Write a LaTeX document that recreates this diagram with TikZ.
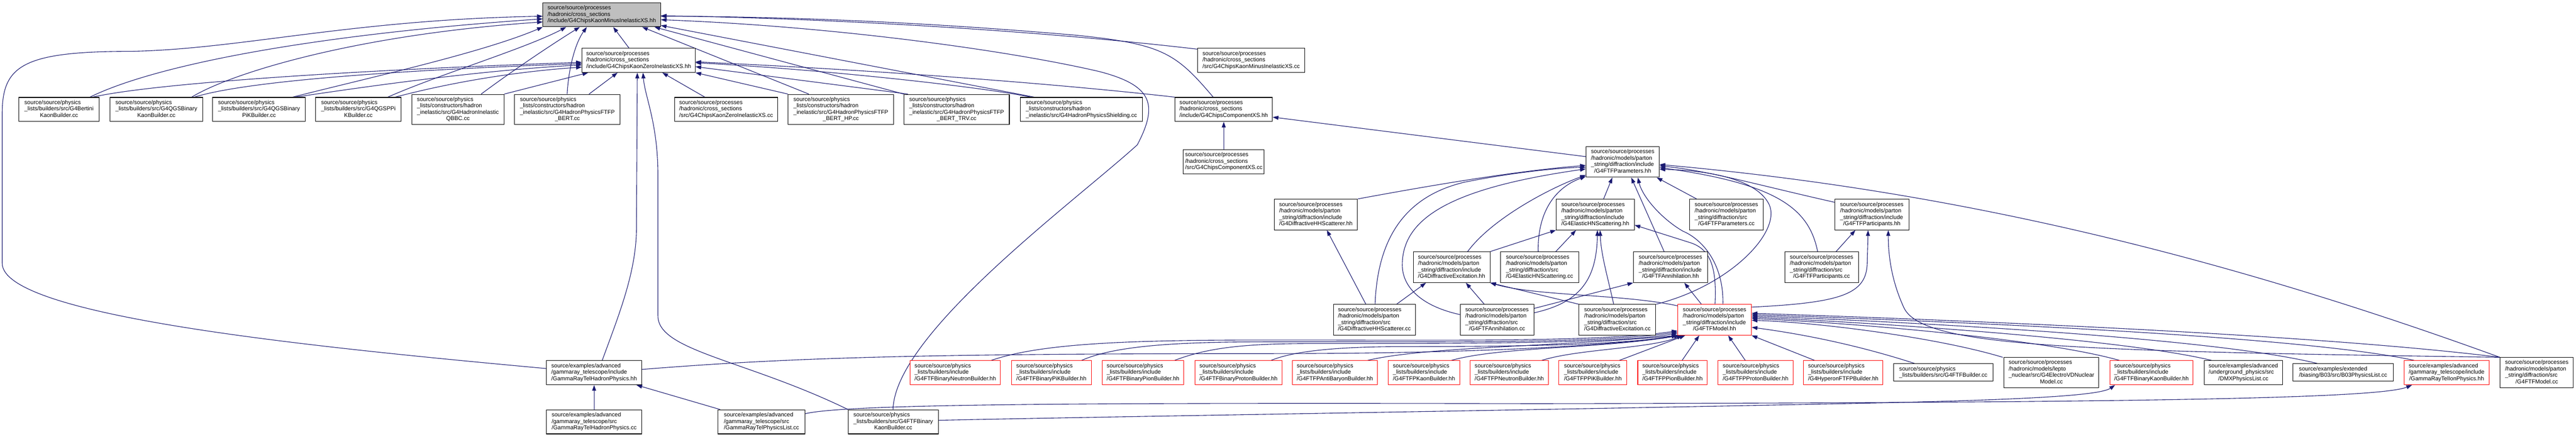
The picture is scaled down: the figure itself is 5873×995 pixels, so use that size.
\documentclass[tikz,border=0pt]{standalone}
\usepackage{fontspec}
\setmainfont{Liberation Sans}
\usetikzlibrary{arrows.meta}
\definecolor{edgec}{HTML}{191970}
\definecolor{grayfill}{HTML}{BFBFBF}
\definecolor{redc}{HTML}{FF0000}
\pgfdeclarelayer{back}\pgfdeclarelayer{edges}\pgfsetlayers{back,edges,main}
\newcommand\mkbox[7]{%
  \pgfmathsetmacro\bxc{(#2+#4)/2}%
  \pgfmathsetmacro\byc{(#3+#5)/2}%
  \pgfmathsetmacro\bxw{#4-#2}%
  \pgfmathsetmacro\bxh{#5-#3}%
  \node[#6,minimum width=\bxw pt,minimum height=\bxh pt] (#1) at (\bxc,\byc) {#7};}
\newcommand\btxt[2]{\begin{tabular}{@{}l@{}}#1\\\multicolumn{1}{@{}c@{}}{#2}\end{tabular}}
\newcommand\Lpsp{source/source/processes}
\newcommand\Lpsy{source/source/physics}
\newcommand\Lhcs{/hadronic/cross\_sections}
\newcommand\Lhmp{/hadronic/models/parton}
\newcommand\Lsdi{\_string/diffraction/include}
\newcommand\Lsds{\_string/diffraction/src}
\newcommand\Llbi{\_lists/builders/include}
\newcommand\Llch{\_lists/constructors/hadron}
\newcommand\Lsea{source/examples/advanced}
\begin{document}
\begin{tikzpicture}[x=1pt,y=-1pt,
  box/.style={draw=black,line width=1.2pt,fill=white,inner sep=0pt,text=black,font=\fontsize{13}{14.7}\selectfont},
  redbox/.style={box,draw=redc},
  graybox/.style={box,fill=grayfill},
  incl/.style={draw=edgec,line width=1.3pt,-{Triangle[length=13pt,width=9pt]}}]
\begin{pgfonlayer}{back}
\fill[white] (0,0) rectangle (5873,995);
\end{pgfonlayer}
\useasboundingbox (0,0) rectangle (5873,995);
% row 1-2
\mkbox{N0}{1238}{6}{1506}{61}{graybox}{\btxt{\Lpsp\\\Lhcs}{/include/G4ChipsKaonMinusInelasticXS.hh}}
\mkbox{N1}{1327}{110}{1585}{165}{box}{\btxt{\Lpsp\\\Lhcs}{/include/G4ChipsKaonZeroInelasticXS.hh}}
\mkbox{N2}{2730}{110}{2975}{165}{box}{\btxt{\Lpsp\\\Lhcs}{/src/G4ChipsKaonMinusInelasticXS.cc}}
% row 3
\mkbox{B1}{43}{222}{226}{277}{box}{\btxt{\Lpsy\\\_lists/builders/src/G4Bertini}{KaonBuilder.cc}}
\mkbox{B2}{251}{222}{462}{277}{box}{\btxt{\Lpsy\\\_lists/builders/src/G4QGSBinary}{KaonBuilder.cc}}
\mkbox{B3}{485}{222}{696}{277}{box}{\btxt{\Lpsy\\\_lists/builders/src/G4QGSBinary}{PiKBuilder.cc}}
\mkbox{B4}{720}{222}{914}{277}{box}{\btxt{\Lpsy\\\_lists/builders/src/G4QGSPPi}{KBuilder.cc}}
\mkbox{C1}{939}{215}{1149}{284}{box}{\btxt{\Lpsy\\\Llch\\\_inelastic/src/G4HadronInelastic}{QBBC.cc}}
\mkbox{C2}{1173}{215}{1414}{284}{box}{\btxt{\Lpsy\\\Llch\\\_inelastic/src/G4HadronPhysicsFTFP}{\_BERT.cc}}
\mkbox{X1}{1538}{222}{1773}{277}{box}{\btxt{\Lpsp\\\Lhcs}{/src/G4ChipsKaonZeroInelasticXS.cc}}
\mkbox{C3}{1797}{215}{2037}{284}{box}{\btxt{\Lpsy\\\Llch\\\_inelastic/src/G4HadronPhysicsFTFP}{\_BERT\_HP.cc}}
\mkbox{C4}{2061}{215}{2301}{284}{box}{\btxt{\Lpsy\\\Llch\\\_inelastic/src/G4HadronPhysicsFTFP}{\_BERT\_TRV.cc}}
\mkbox{C5}{2326}{222}{2605}{277}{box}{\btxt{\Lpsy\\\Llch}{\_inelastic/src/G4HadronPhysicsShielding.cc}}
\mkbox{X2}{2679}{222}{2901}{277}{box}{\btxt{\Lpsp\\\Lhcs}{/include/G4ChipsComponentXS.hh}}
% row 4
\mkbox{X3}{2698}{341}{2882}{396}{box}{\btxt{\Lpsp\\\Lhcs}{/src/G4ChipsComponentXS.cc}}
\mkbox{F0}{3616}{334}{3783}{404}{box}{\btxt{\Lpsp\\\Lhmp\\\Lsdi}{/G4FTFParameters.hh}}
% row 5
\mkbox{D1}{2905}{454}{3095}{524}{box}{\btxt{\Lpsp\\\Lhmp\\\Lsdi}{/G4DiffractiveHHScatterer.hh}}
\mkbox{E1}{3548}{454}{3726}{524}{box}{\btxt{\Lpsp\\\Lhmp\\\Lsdi}{/G4ElasticHNScattering.hh}}
\mkbox{P1}{3852}{454}{4020}{524}{box}{\btxt{\Lpsp\\\Lhmp\\\Lsds}{/G4FTFParameters.cc}}
\mkbox{Q1}{4183}{454}{4352}{524}{box}{\btxt{\Lpsp\\\Lhmp\\\Lsdi}{/G4FTFParticipants.hh}}
% row 6
\mkbox{D2}{3222}{574}{3397}{644}{box}{\btxt{\Lpsp\\\Lhmp\\\Lsdi}{/G4DiffractiveExcitation.hh}}
\mkbox{E2}{3421}{574}{3599}{644}{box}{\btxt{\Lpsp\\\Lhmp\\\Lsds}{/G4ElasticHNScattering.cc}}
\mkbox{A1}{3724}{574}{3893}{644}{box}{\btxt{\Lpsp\\\Lhmp\\\Lsdi}{/G4FTFAnnihilation.hh}}
\mkbox{Q2}{4069}{574}{4237}{644}{box}{\btxt{\Lpsp\\\Lhmp\\\Lsds}{/G4FTFParticipants.cc}}
% row 7
\mkbox{D3}{3040}{694}{3227}{764}{box}{\btxt{\Lpsp\\\Lhmp\\\Lsds}{/G4DiffractiveHHScatterer.cc}}
\mkbox{A2}{3329}{694}{3497}{764}{box}{\btxt{\Lpsp\\\Lhmp\\\Lsds}{/G4FTFAnnihilation.cc}}
\mkbox{D4}{3600}{694}{3775}{764}{box}{\btxt{\Lpsp\\\Lhmp\\\Lsds}{/G4DiffractiveExcitation.cc}}
\mkbox{M0}{3825}{694}{3993}{764}{redbox}{\btxt{\Lpsp\\\Lhmp\\\Lsdi}{/G4FTFModel.hh}}
% row 8
\mkbox{GH}{1246}{822}{1463}{877}{box}{\btxt{\Lsea\\/gammaray\_telescope/include}{/GammaRayTelHadronPhysics.hh}}
\mkbox{R1}{2075}{822}{2281}{877}{redbox}{\btxt{\Lpsy\\\Llbi}{/G4FTFBinaryNeutronBuilder.hh}}
\mkbox{R2}{2306}{822}{2488}{877}{redbox}{\btxt{\Lpsy\\\Llbi}{/G4FTFBinaryPiKBuilder.hh}}
\mkbox{R3}{2513}{822}{2699}{877}{redbox}{\btxt{\Lpsy\\\Llbi}{/G4FTFBinaryPionBuilder.hh}}
\mkbox{R4}{2724}{822}{2923}{877}{redbox}{\btxt{\Lpsy\\\Llbi}{/G4FTFBinaryProtonBuilder.hh}}
\mkbox{R5}{2947}{822}{3140}{877}{redbox}{\btxt{\Lpsy\\\Llbi}{/G4FTFPAntiBaryonBuilder.hh}}
\mkbox{R6}{3165}{822}{3328}{877}{redbox}{\btxt{\Lpsy\\\Llbi}{/G4FTFPKaonBuilder.hh}}
\mkbox{R7}{3352}{822}{3530}{877}{redbox}{\btxt{\Lpsy\\\Llbi}{/G4FTFPNeutronBuilder.hh}}
\mkbox{R8}{3554}{822}{3709}{877}{redbox}{\btxt{\Lpsy\\\Llbi}{/G4FTFPPiKBuilder.hh}}
\mkbox{R9}{3734}{822}{3892}{877}{redbox}{\btxt{\Lpsy\\\Llbi}{/G4FTFPPionBuilder.hh}}
\mkbox{R10}{3917}{822}{4088}{877}{redbox}{\btxt{\Lpsy\\\Llbi}{/G4FTFPProtonBuilder.hh}}
\mkbox{R11}{4112}{822}{4293}{877}{redbox}{\btxt{\Lpsy\\\Llbi}{/G4HyperonFTFPBuilder.hh}}
\mkbox{K1}{4317}{829}{4544}{869}{box}{\btxt{\Lpsy}{\_lists/builders/src/G4FTFBuilder.cc}}
\mkbox{K2}{4569}{815}{4785}{884}{box}{\btxt{\Lpsp\\/hadronic/models/lepto\\\_nuclear/src/G4ElectroVDNuclear}{Model.cc}}
\mkbox{R12}{4810}{822}{5000}{877}{redbox}{\btxt{\Lpsy\\\Llbi}{/G4FTFBinaryKaonBuilder.hh}}
\mkbox{K3}{5025}{822}{5204}{877}{box}{\btxt{\Lsea\\/underground\_physics/src}{/DMXPhysicsList.cc}}
\mkbox{K4}{5228}{829}{5456}{869}{box}{\btxt{source/examples/extended}{/biasing/B03/src/B03PhysicsList.cc}}
\mkbox{R13}{5481}{822}{5675}{877}{redbox}{\btxt{\Lsea\\/gammaray\_telescope/include}{/GammaRayTelIonPhysics.hh}}
\mkbox{K5}{5700}{815}{5867}{884}{box}{\btxt{\Lpsp\\\Lhmp\\\Lsds}{/G4FTFModel.cc}}
% row 9
\mkbox{G1}{1246}{934}{1463}{989}{box}{\btxt{\Lsea\\/gammaray\_telescope/src}{/GammaRayTelHadronPhysics.cc}}
\mkbox{G2}{1637}{934}{1835}{989}{box}{\btxt{\Lsea\\/gammaray\_telescope/src}{/GammaRayTelPhysicsList.cc}}
\mkbox{G3}{1934}{934}{2139}{989}{box}{\btxt{\Lpsy\\\_lists/builders/src/G4FTFBinary}{KaonBuilder.cc}}
\begin{pgfonlayer}{edges}
% into main header
\draw[incl] (GH.west |- 0,840) .. controls (700,790) and (5,720) .. (5,600) -- (5,260) .. controls (5,150) and (50,117) .. (300,117) .. controls (550,112) and (800,45) .. (N0.west |- 0,37);
\draw[incl] (B1.north -| 205,0) .. controls (350,150) and (700,80) .. (N0.west |- 0,43);
\draw[incl] (B2.north -| 437,0) .. controls (520,170) and (800,80) .. (N0.west |- 0,50);
\draw[incl] (B3.north -| 667,0) .. controls (850,175) and (1100,120) .. (N0.south west);
\draw[incl] (B4.north -| 884,0) .. controls (1000,170) and (1200,110) .. (N0.south -| 1291,0);
\draw[incl] (C1.north -| 1097,0) .. controls (1170,160) and (1260,100) .. (N0.south -| 1322,0);
\draw[incl] (C2.north -| 1293,0) .. controls (1296,160) and (1310,100) .. (N0.south -| 1338,0);
\draw[incl] (N1.north -| 1434,0) -- (N0.south -| 1398,0);
\draw[incl] (C3.north -| 1844,0) -- (N0.south -| 1464,0);
\draw[incl] (C4.north west) -- (N0.south -| 1492,0);
\draw[incl] (C5.north -| 2358,0) -- (N0.east |- 0,58);
\draw[incl] (X2.north -| 2766,0) .. controls (2680,120) and (2650,100) .. (2450,80) .. controls (2100,50) and (1800,38) .. (N0.east |- 0,37);
\draw[incl] (N2.west |- 0,112) .. controls (2300,62) and (1800,40) .. (N0.east |- 0,36);
\draw[incl] (G3.north -| 2036,0) .. controls (2040,760) and (2450,460) .. (2593,330) .. controls (2640,240) and (2630,195) .. (2506,163) .. controls (2300,115) and (1900,60) .. (N0.east |- 0,45);
% into KaonZero header
\draw[incl] (B1.north -| 211,0) .. controls (350,190) and (800,160) .. (N1.west |- 0,142);
\draw[incl] (B2.north -| 443,0) .. controls (560,185) and (900,160) .. (N1.west |- 0,145);
\draw[incl] (B3.north -| 673,0) .. controls (850,195) and (1100,160) .. (N1.west |- 0,148);
\draw[incl] (B4.north -| 901,0) .. controls (1000,195) and (1150,165) .. (N1.west |- 0,153);
\draw[incl] (C1.north east) -- (N1.south -| 1341,0);
\draw[incl] (C2.north -| 1343,0) -- (N1.south -| 1408,0);
\draw[incl] (C3.north west) -- (N1.south east);
\draw[incl] (C4.north -| 2070,0) -- (N1.east |- 0,152);
\draw[incl] (X1.north -| 1607,0) -- (N1.south -| 1510,0);
\draw[incl] (C5.north -| 2350,0) .. controls (2250,200) and (1900,160) .. (N1.east |- 0,143);
\draw[incl] (X2.north west) .. controls (2400,190) and (2000,160) .. (N1.east |- 0,141);
\draw[incl] (G3.north west) .. controls (1700,820) and (1500,800) .. (1500,720) -- (1500,400) .. controls (1500,280) and (1470,220) .. (N1.south -| 1466,0);
\draw[incl] (GH.north -| 1373,0) .. controls (1410,720) and (1451,620) .. (1451,520) -- (N1.south -| 1453,0);
% component XS
\draw[incl] (X3.north -| 2790,0) -- (X2.south -| 2790,0);
\draw[incl] (F0.west |- 0,357) -- (X2.east |- 0,267);
% into FTF parameters
\draw[incl] (D1.north east) .. controls (3250,425) and (3450,390) .. (F0.west |- 0,377);
\draw[incl] (D3.north -| 3135,0) .. controls (3140,560) and (3190,450) .. (3340,415) .. controls (3450,393) and (3550,383) .. (F0.west |- 0,381);
\draw[incl] (A2.west |- 0,717) .. controls (3250,700) and (3195,660) .. (3197,600) .. controls (3200,500) and (3300,430) .. (F0.west |- 0,385);
\draw[incl] (D2.north -| 3346,0) .. controls (3400,500) and (3530,430) .. (F0.west |- 0,399);
\draw[incl] (E2.north -| 3507,0) .. controls (3505,490) and (3540,430) .. (F0.west |- 0,402);
\draw[incl] (E1.north -| 3656,0) -- (F0.south -| 3676,0);
\draw[incl] (A1.north -| 3794,0) -- (F0.south -| 3719,0);
\draw[incl] (M0.north -| 3928,0) .. controls (3930,600) and (3880,545) .. (3837,527) .. controls (3790,500) and (3745,450) .. (F0.south -| 3734,0);
\draw[incl] (P1.north -| 3868,0) -- (F0.south -| 3777,0);
\draw[incl] (Q1.west |- 0,461) .. controls (4000,420) and (3900,390) .. (F0.east |- 0,378);
\draw[incl] (Q2.north -| 4144,0) .. controls (4125,480) and (4060,420) .. (F0.east |- 0,382);
\draw[incl] (D4.north east) .. controls (3950,650) and (4070,520) .. (4030,460) .. controls (4000,410) and (3900,388) .. (F0.east |- 0,386);
\draw[incl] (K5.north west) .. controls (5000,560) and (4400,430) .. (F0.east |- 0,375);
% diffraction internals
\draw[incl] (D3.north -| 3114,0) -- (D1.south -| 3025,0);
\draw[incl] (D3.north -| 3184,0) -- (D2.south -| 3251,0);
\draw[incl] (A2.north -| 3384,0) -- (D2.south -| 3342,0);
\draw[incl] (D4.north west) -- (D2.south east);
\draw[incl] (M0.west |- 0,697) .. controls (3700,670) and (3500,675) .. (D2.south east);
\draw[incl] (D2.north east) -- (E1.south west);
\draw[incl] (E2.north -| 3547,0) -- (E1.south -| 3593,0);
\draw[incl] (A2.east |- 0,713) .. controls (3600,690) and (3640,640) .. (E1.south -| 3642,0);
\draw[incl] (D4.north -| 3679,0) .. controls (3665,630) and (3650,580) .. (E1.south -| 3648,0);
\draw[incl] (M0.north -| 3910,0) .. controls (3915,600) and (3895,565) .. (3850,552) -- (E1.east |- 0,513);
\draw[incl] (A2.east |- 0,703) -- (A1.south west);
\draw[incl] (M0.north -| 3879,0) -- (A1.south -| 3840,0);
\draw[incl] (Q2.north -| 4186,0) -- (Q1.south -| 4230,0);
\draw[incl] (M0.east |- 0,700) .. controls (4200,690) and (4255,670) .. (4257,600) -- (Q1.south -| 4259,0);
\draw[incl] (K5.north west) .. controls (4700,800) and (4380,790) .. (4340,700) .. controls (4315,645) and (4305,590) .. (Q1.south -| 4305,0);
% into FTF model
\draw[incl] (R1.north -| 2260,0) .. controls (2380,780) and (2600,775) .. (2900,775) .. controls (3300,775) and (3650,780) .. (M0.west |- 0,754);
\draw[incl] (R2.north -| 2466,0) .. controls (2560,780) and (2750,779) .. (2950,779) .. controls (3350,779) and (3650,782) .. (M0.west |- 0,757);
\draw[incl] (R3.north -| 2678,0) .. controls (2760,790) and (2850,783) .. (3000,783) .. controls (3400,783) and (3680,782) .. (M0.west |- 0,760);
\draw[incl] (R4.north -| 2898,0) .. controls (2950,800) and (3050,790) .. (3200,790) .. controls (3500,790) and (3700,785) .. (M0.south west);
\draw[incl] (GH.east |- 0,842) .. controls (1800,815) and (2100,806) .. (2900,806) .. controls (3400,806) and (3700,785) .. (M0.south west);
\draw[incl] (R5.north -| 3118,0) .. controls (3250,790) and (3550,790) .. (M0.south west);
\draw[incl] (R6.north -| 3309,0) .. controls (3420,790) and (3650,795) .. (M0.south -| 3830,0);
\draw[incl] (R7.north -| 3515,0) .. controls (3600,795) and (3760,795) .. (M0.south -| 3836,0);
\draw[incl] (R8.north -| 3692,0) -- (M0.south -| 3842,0);
\draw[incl] (R9.north -| 3835,0) -- (M0.south -| 3874,0);
\draw[incl] (R10.north -| 3979,0) -- (M0.south -| 3940,0);
\draw[incl] (R11.north -| 4137,0) -- (M0.south east);
\draw[incl] (K1.north -| 4365,0) .. controls (4200,775) and (4060,755) .. (M0.east |- 0,746);
\draw[incl] (K2.north -| 4566,0) .. controls (4420,770) and (4150,735) .. (M0.east |- 0,730);
\draw[incl] (R12.north -| 4832,0) .. controls (4650,770) and (4200,735) .. (M0.east |- 0,726);
\draw[incl] (K3.north -| 5042,0) .. controls (4820,768) and (4200,732) .. (M0.east |- 0,723);
\draw[incl] (K4.north -| 5283,0) .. controls (5020,764) and (4250,730) .. (M0.east |- 0,720);
\draw[incl] (R13.north -| 5504,0) .. controls (5220,760) and (4300,728) .. (M0.east |- 0,717);
\draw[incl] (K5.north west) .. controls (5250,758) and (4350,726) .. (M0.east |- 0,714);
% gamma ray telescope and kaon builder
\draw[incl] (G1.north) -- (GH.south);
\draw[incl] (G2.north -| 1642,0) -- (GH.south -| 1451,0);
\draw[incl] (G2.east |- 0,943) .. controls (1930,920) and (2500,918) .. (3500,920) .. controls (4800,918) and (5420,910) .. (R13.south -| 5499,0);
\draw[incl] (G3.east |- 0,958) .. controls (2500,950) and (3500,935) .. (4300,918) .. controls (4650,910) and (4790,900) .. (R12.south -| 4822,0);
\end{pgfonlayer}
\end{tikzpicture}
\end{document}
